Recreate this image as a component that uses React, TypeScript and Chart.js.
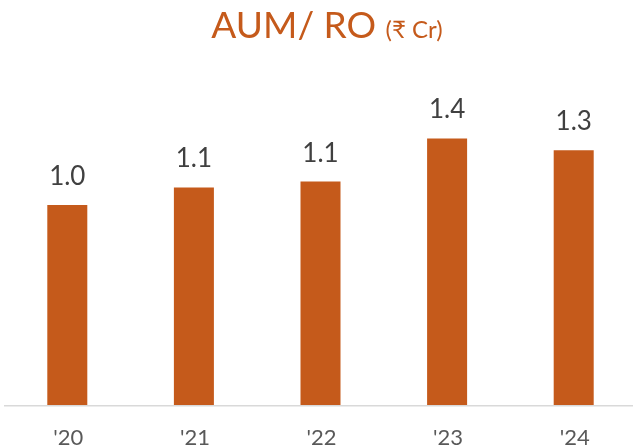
import React, { useEffect, useRef } from "react";
import { Chart, registerables } from "chart.js";

Chart.register(...registerables);

const years = ["'20", "'21", "'22", "'23", "'24"];
const aumPerRo = [1.02, 1.11, 1.14, 1.36, 1.3];

const ORANGE = "#C55A1B";
const FONT = "Lato, 'Open Sans', sans-serif";

const overlay = {
  id: "overlay",
  afterDatasetsDraw(chart: any) {
    const { ctx, chartArea } = chart;
    const meta = chart.getDatasetMeta(0);
    const x = chart.scales.x;
    ctx.save();

    // baseline
    ctx.strokeStyle = "#D9D9D9";
    ctx.lineWidth = 1.5;
    ctx.beginPath();
    ctx.moveTo(chartArea.left, chartArea.bottom + 0.75);
    ctx.lineTo(chartArea.right, chartArea.bottom + 0.75);
    ctx.stroke();

    // value labels
    ctx.fillStyle = "#404040";
    ctx.font = `26px ${FONT}`;
    ctx.textAlign = "center";
    ctx.textBaseline = "alphabetic";
    meta.data.forEach((bar: any, i: number) => {
      ctx.fillText(aumPerRo[i].toFixed(1), bar.x, bar.y - 20);
    });

    // category labels
    ctx.fillStyle = "#595959";
    ctx.font = `22px ${FONT}`;
    years.forEach((y, i) => {
      ctx.fillText(y, x.getPixelForValue(i) + 1, 445);
    });

    // title
    const main = "AUM/ RO ";
    const unit = "(₹ Cr)";
    ctx.fillStyle = ORANGE;
    ctx.textAlign = "left";
    ctx.font = `37px ${FONT}`;
    const w1 = ctx.measureText(main).width;
    ctx.font = `24px ${FONT}`;
    const w2 = ctx.measureText(unit).width;
    const start = 327 - (w1 + w2) / 2;
    ctx.font = `37px ${FONT}`;
    ctx.fillText(main, start, 38);
    ctx.font = `24px ${FONT}`;
    ctx.fillText(unit, start + w1, 38);

    ctx.restore();
  },
};

export default function App() {
  const ref = useRef<HTMLCanvasElement>(null);

  useEffect(() => {
    if (!ref.current) return;
    const chart = new Chart(ref.current, {
      type: "bar",
      data: {
        labels: years,
        datasets: [
          {
            data: aumPerRo,
            backgroundColor: ORANGE,
            categoryPercentage: 1,
            barPercentage: 0.316,
          },
        ],
      },
      options: {
        responsive: false,
        animation: false,
        layout: { padding: { left: 4, right: 4, top: 13, bottom: 43 } },
        plugins: {
          legend: { display: false },
          tooltip: { enabled: false },
          title: { display: false },
        },
        scales: {
          x: { display: false, offset: true },
          y: { display: false, min: 0, max: 2 },
        },
      },
      plugins: [overlay],
    });
    return () => chart.destroy();
  }, []);

  return (
    <div
      style={{
        position: "fixed",
        left: 0,
        top: 0,
        width: 633,
        height: 448,
        overflow: "hidden",
        background: "#fff",
      }}
    >
      <canvas ref={ref} width={641} height={448} style={{ display: "block" }} />
    </div>
  );
}
